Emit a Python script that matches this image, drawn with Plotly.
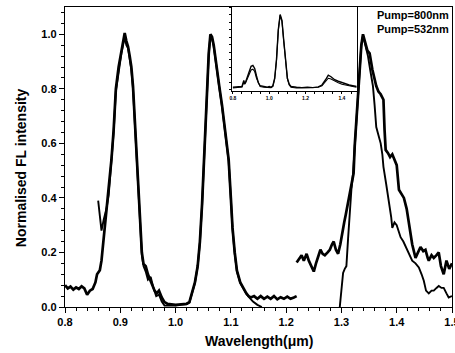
import plotly.graph_objects as go

# ---------------- data ----------------
# Pump = 800 nm, visible-detector segment
w800_a = [0.800, 0.805, 0.810, 0.815, 0.820, 0.825, 0.830, 0.835, 0.840, 0.845, 0.850, 0.855,
          0.858, 0.863, 0.866, 0.872, 0.878, 0.884, 0.888, 0.892, 0.897, 0.902, 0.905, 0.908,
          0.911, 0.914, 0.917, 0.920, 0.923, 0.927, 0.930, 0.933, 0.936, 0.939, 0.942, 0.946,
          0.950, 0.954, 0.958, 0.962, 0.966, 0.970, 0.975, 0.980, 0.985, 0.990, 1.000, 1.010,
          1.020, 1.025, 1.030, 1.035, 1.040, 1.044, 1.048, 1.051, 1.054, 1.057, 1.060, 1.063,
          1.066, 1.069, 1.072, 1.075, 1.079, 1.084, 1.088, 1.092, 1.096, 1.100, 1.103, 1.107,
          1.111, 1.117, 1.123, 1.128, 1.132, 1.136, 1.142, 1.148, 1.154, 1.160, 1.166, 1.172,
          1.178, 1.184, 1.190, 1.196, 1.202, 1.208, 1.214, 1.219]
i800_a = [0.080, 0.068, 0.075, 0.064, 0.072, 0.066, 0.076, 0.068, 0.045, 0.060, 0.066, 0.090,
          0.120, 0.135, 0.170, 0.290, 0.420, 0.540, 0.650, 0.800, 0.880, 0.940, 0.975, 1.005,
          0.975, 0.955, 0.920, 0.880, 0.810, 0.660, 0.530, 0.400, 0.290, 0.200, 0.158, 0.150,
          0.120, 0.100, 0.085, 0.060, 0.050, 0.060, 0.035, 0.018, 0.012, 0.010, 0.008, 0.010,
          0.012, 0.018, 0.050, 0.090, 0.150, 0.240, 0.380, 0.520, 0.680, 0.830, 0.930, 1.000,
          0.990, 0.960, 0.910, 0.870, 0.810, 0.740, 0.680, 0.610, 0.540, 0.400, 0.290, 0.200,
          0.133, 0.090, 0.066, 0.050, 0.040, 0.035, 0.040, 0.030, 0.040, 0.030, 0.038, 0.030,
          0.040, 0.028, 0.036, 0.030, 0.038, 0.030, 0.035, 0.040]

# Pump = 800 nm, infrared-detector segment
w800_b = [1.219, 1.223, 1.228, 1.232, 1.237, 1.241, 1.246, 1.250, 1.254, 1.258, 1.262, 1.266,
          1.270, 1.275, 1.279, 1.283, 1.286, 1.290, 1.294, 1.298, 1.301, 1.305, 1.308, 1.311,
          1.315, 1.318, 1.322, 1.324, 1.328, 1.332, 1.336, 1.339, 1.343, 1.347, 1.351, 1.356,
          1.363, 1.367, 1.371, 1.376, 1.378, 1.380, 1.384, 1.388, 1.392, 1.396, 1.400, 1.404,
          1.409, 1.413, 1.418, 1.423, 1.428, 1.434, 1.438, 1.443, 1.448, 1.452, 1.456, 1.458,
          1.463, 1.467, 1.472, 1.476, 1.480, 1.485, 1.490, 1.495, 1.500]
i800_b = [0.163, 0.175, 0.190, 0.170, 0.195, 0.170, 0.150, 0.130, 0.160, 0.190, 0.210, 0.195,
          0.190, 0.200, 0.210, 0.230, 0.240, 0.210, 0.195, 0.230, 0.270, 0.310, 0.340, 0.370,
          0.410, 0.440, 0.490, 0.590, 0.720, 0.850, 0.960, 1.000, 0.970, 0.940, 0.930, 0.870,
          0.810, 0.790, 0.780, 0.760, 0.650, 0.576, 0.565, 0.550, 0.560, 0.540, 0.520, 0.430,
          0.410, 0.400, 0.360, 0.290, 0.230, 0.180, 0.200, 0.220, 0.205, 0.210, 0.180, 0.170,
          0.190, 0.180, 0.190, 0.200, 0.150, 0.120, 0.170, 0.140, 0.160]

# Pump = 532 nm, visible-detector segment
w532_a = [0.860, 0.863, 0.866, 0.870, 0.875, 0.879, 0.884, 0.888, 0.892, 0.897, 0.902, 0.905,
          0.908, 0.911, 0.914, 0.917, 0.920, 0.923, 0.927, 0.930, 0.933, 0.936, 0.939, 0.942,
          0.946, 0.950, 0.955, 0.960, 0.965, 0.970, 0.975, 0.980, 0.990, 1.000, 1.010, 1.020,
          1.025, 1.030, 1.035, 1.040, 1.044, 1.048, 1.051, 1.054, 1.057, 1.060, 1.063, 1.066,
          1.069, 1.072, 1.075, 1.079, 1.084, 1.088, 1.092, 1.096, 1.100, 1.103, 1.107, 1.111,
          1.117, 1.123, 1.128, 1.132, 1.140, 1.148, 1.156]
i532_a = [0.390, 0.320, 0.280, 0.320, 0.360, 0.410, 0.530, 0.640, 0.790, 0.870, 0.930, 0.960,
          0.990, 0.960, 0.950, 0.910, 0.870, 0.800, 0.650, 0.520, 0.390, 0.280, 0.190, 0.150,
          0.130, 0.100, 0.110, 0.070, 0.040, 0.045, 0.020, 0.005, 0.005, 0.005, 0.008, 0.010,
          0.016, 0.048, 0.088, 0.150, 0.235, 0.375, 0.515, 0.675, 0.825, 0.925, 0.995, 0.985,
          0.955, 0.905, 0.865, 0.805, 0.735, 0.675, 0.605, 0.535, 0.395, 0.285, 0.195, 0.130,
          0.088, 0.064, 0.048, 0.038, 0.020, 0.008, 0.000]

# Pump = 532 nm, infrared-detector segment
w532_b = [1.297, 1.300, 1.303, 1.306, 1.309, 1.312, 1.315, 1.318, 1.321, 1.324, 1.328, 1.332,
          1.336, 1.339, 1.343, 1.348, 1.352, 1.357, 1.360, 1.363, 1.367, 1.371, 1.374, 1.376,
          1.381, 1.386, 1.390, 1.392, 1.396, 1.400, 1.404, 1.407, 1.412, 1.419, 1.423, 1.428,
          1.434, 1.440, 1.445, 1.449, 1.453, 1.458, 1.463, 1.467, 1.472, 1.476, 1.481, 1.485,
          1.490, 1.494, 1.500]
i532_b = [0.000, 0.070, 0.125, 0.140, 0.150, 0.250, 0.360, 0.430, 0.490, 0.590, 0.720, 0.850,
          0.960, 0.995, 0.960, 0.920, 0.870, 0.810, 0.740, 0.660, 0.630, 0.600, 0.560, 0.514,
          0.450, 0.390, 0.330, 0.290, 0.310, 0.300, 0.270, 0.256, 0.240, 0.207, 0.190, 0.170,
          0.160, 0.145, 0.120, 0.096, 0.060, 0.050, 0.060, 0.060, 0.070, 0.077, 0.070, 0.070,
          0.050, 0.035, 0.040]

# Inset (full spectra)
inset_w = [0.80, 0.82, 0.84, 0.85, 0.86, 0.865, 0.87, 0.88, 0.89, 0.90, 0.91, 0.92, 0.93,
           0.94, 0.95, 0.97, 0.99, 1.00, 1.01, 1.02, 1.03, 1.04, 1.05, 1.06, 1.07, 1.08, 1.09,
           1.10, 1.11, 1.12, 1.15, 1.18, 1.21, 1.24, 1.27, 1.29, 1.31, 1.325, 1.34, 1.36, 1.38,
           1.40, 1.42, 1.44, 1.46, 1.48]
inset_800 = [0.03, 0.03, 0.035, 0.04, 0.12, 0.08, 0.10, 0.18, 0.26, 0.31, 0.32, 0.28, 0.18,
             0.09, 0.05, 0.04, 0.03, 0.04, 0.03, 0.05, 0.15, 0.40, 0.80, 1.00, 0.92, 0.65, 0.35,
             0.15, 0.07, 0.04, 0.03, 0.025, 0.03, 0.025, 0.035, 0.06, 0.13, 0.19, 0.17, 0.13,
             0.11, 0.09, 0.07, 0.06, 0.05, 0.04]
inset_532 = [0.02, 0.025, 0.03, 0.035, 0.10, 0.07, 0.09, 0.15, 0.22, 0.26, 0.27, 0.24, 0.15,
             0.08, 0.04, 0.03, 0.025, 0.03, 0.025, 0.04, 0.14, 0.39, 0.79, 0.99, 0.91, 0.64,
             0.34, 0.14, 0.06, 0.03, 0.02, 0.02, 0.025, 0.02, 0.03, 0.05, 0.11, 0.15, 0.14,
             0.11, 0.09, 0.07, 0.06, 0.05, 0.04, 0.03]

legend_labels = ["Pump=800nm", "Pump=532nm"]
x_title = "Wavelength(\u03bcm)"
y_title = "Normalised FL intensity"

# ---------------- figure ----------------
FONT = "Liberation Sans, Arial, sans-serif"
fig = go.Figure()

x800 = w800_a + [None] + w800_b
y800 = i800_a + [None] + i800_b
x532 = w532_a + [None] + w532_b
y532 = i532_a + [None] + i532_b

fig.add_trace(go.Scatter(x=x800, y=y800, mode="lines", name=legend_labels[0],
                         line=dict(color="black", width=2.7), connectgaps=False,
                         showlegend=False))
fig.add_trace(go.Scatter(x=x532, y=y532, mode="lines", name=legend_labels[1],
                         line=dict(color="black", width=1.9), connectgaps=False,
                         showlegend=False))

fig.add_trace(go.Scatter(x=inset_w, y=inset_800, mode="lines", xaxis="x2", yaxis="y2",
                         line=dict(color="black", width=1.4), showlegend=False))
fig.add_trace(go.Scatter(x=inset_w, y=inset_532, mode="lines", xaxis="x2", yaxis="y2",
                         line=dict(color="black", width=1.1), showlegend=False))

tickfont = dict(family=FONT, size=11, color="black", weight="bold")

fig.update_layout(
    width=455, height=353,
    margin=dict(l=65, r=3, t=7, b=46, autoexpand=False),
    paper_bgcolor="white", plot_bgcolor="white",
    font=dict(family=FONT, color="black"),
    xaxis=dict(range=[0.8, 1.5], dtick=0.1, tick0=0.8, tickformat=".1f",
               showgrid=False, zeroline=False, ticklabeloverflow="allow",
               automargin=False,
               showline=True, linecolor="black", linewidth=1.3, mirror=True,
               ticks="outside", ticklen=5, tickwidth=1.2, tickcolor="black",
               tickfont=tickfont,
               minor=dict(dtick=0.02, ticks="outside", ticklen=3, tickwidth=1,
                          tickcolor="black", showgrid=False)),
    yaxis=dict(range=[0, 1.1], dtick=0.2, tick0=0, tickformat=".1f",
               showgrid=False, zeroline=False, automargin=False,
               showline=True, linecolor="black", linewidth=1.3, mirror=True,
               ticks="outside", ticklen=5, tickwidth=1.2, tickcolor="black",
               tickfont=tickfont,
               minor=dict(dtick=0.04, ticks="outside", ticklen=3, tickwidth=1,
                          tickcolor="black", showgrid=False)),
    xaxis2=dict(domain=[0.4315, 0.7545], anchor="y2", range=[0.795, 1.483],
                tickvals=[0.8, 1.0, 1.2, 1.4], ticktext=["0.8", "1.0", "1.2", "1.4"],
                showgrid=False, zeroline=False, automargin=False,
                showline=True, linecolor="black", linewidth=1, mirror=True,
                ticks="outside", ticklen=2, tickcolor="black",
                tickfont=dict(family=FONT, size=5, color="black", weight="bold"),
                minor=dict(dtick=0.05, ticks="outside", ticklen=1.5, tickcolor="black")),
    yaxis2=dict(domain=[0.72, 1.0], anchor="x2", range=[-0.02, 1.1],
                showticklabels=False, showgrid=False, zeroline=False, automargin=False,
                showline=True, linecolor="black", linewidth=1, mirror=True,
                ticks="outside", ticklen=2, dtick=0.1, tickcolor="black"),
    annotations=[
        dict(text=x_title, xref="paper", yref="paper", x=0.5, y=-0.113,
             xanchor="center", yanchor="middle", showarrow=False,
             font=dict(family=FONT, size=14, color="black", weight="bold")),
        dict(text=y_title, xref="paper", yref="paper", x=-0.112, y=0.465,
             xanchor="center", yanchor="middle", textangle=-90, showarrow=False,
             font=dict(family=FONT, size=14, color="black", weight="bold")),
        dict(text=legend_labels[0], xref="paper", yref="paper", x=0.998, y=0.973,
             xanchor="right", yanchor="middle", showarrow=False,
             font=dict(family=FONT, size=11, color="black", weight="bold")),
        dict(text=legend_labels[1], xref="paper", yref="paper", x=0.998, y=0.927,
             xanchor="right", yanchor="middle", showarrow=False,
             font=dict(family=FONT, size=11, color="black", weight="bold")),
    ],
)

fig.write_html("out.html", config={"displayModeBar": False},
               post_script="document.body.style.margin='0';document.body.style.overflow='hidden';")
